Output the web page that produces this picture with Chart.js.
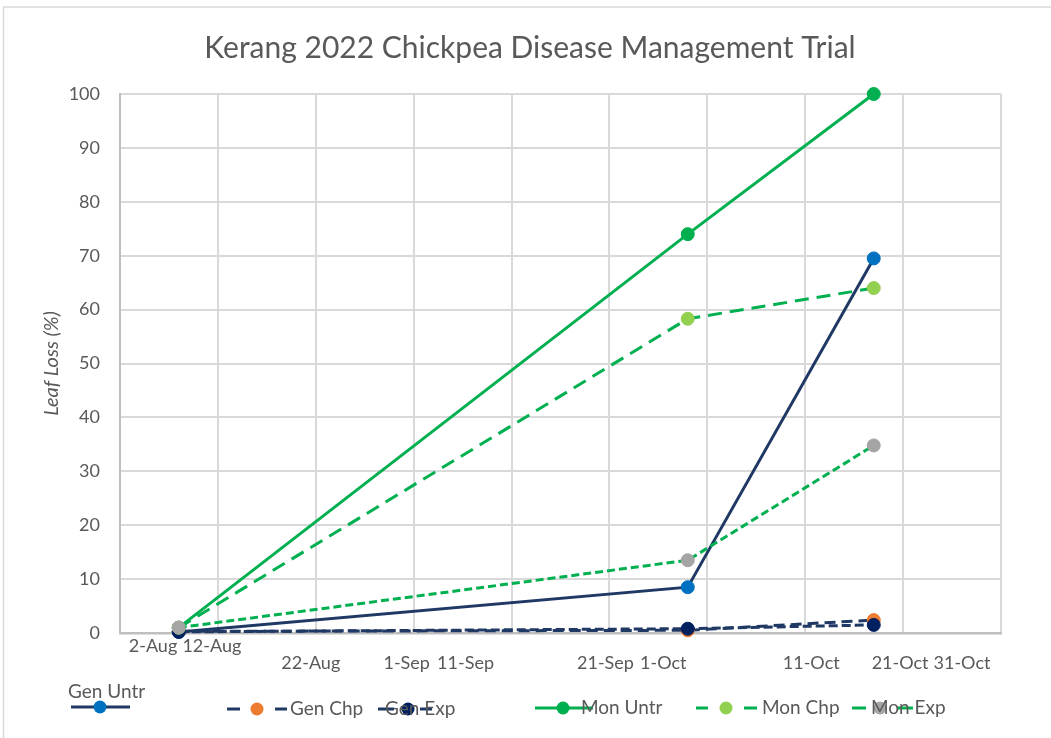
<!DOCTYPE html>
<html>
<head>
<meta charset="utf-8">
<script src="https://cdn.jsdelivr.net/npm/chart.js@4/dist/chart.umd.min.js"></script>
<style>
  html, body { margin: 0; padding: 0; background: #ffffff; }
  #wrap { position: relative; width: 1051px; height: 738px; }
  canvas { display: block; }
</style>
</head>
<body>
<div id="wrap"><canvas id="c" width="1051" height="738"></canvas></div>
<script>
// ---------------- DATA ----------------
const chartTitle = 'Kerang 2022 Chickpea Disease Management Trial';
const yAxisTitle = 'Leaf Loss (%)';
const axisStartDate = '2022-08-02';
const axisEndDate = '2022-10-31';
const assessmentDates = ['2022-08-08', '2022-09-29', '2022-10-18'];
const xTickLabels = ['2-Aug', '12-Aug', '22-Aug', '1-Sep', '11-Sep', '21-Sep', '1-Oct', '11-Oct', '21-Oct', '31-Oct'];
const yTickMin = 0;
const yTickMax = 100;
const yTickStep = 10;

const seriesNames = ['Gen Untr', 'Gen Chp', 'Gen Exp', 'Mon Untr', 'Mon Chp', 'Mon Exp'];
const genUntr = [0.2, 8.5, 69.5];
const genChp  = [0.3, 0.5, 2.4];
const genExp  = [0.2, 0.8, 1.5];
const monUntr = [1.0, 74.0, 100.0];
const monChp  = [1.0, 58.3, 64.0];
const monExp  = [1.0, 13.5, 34.8];
const seriesValues = [genUntr, genChp, genExp, monUntr, monChp, monExp];

// ---------------- STYLE ----------------
const TEXT = '#595959';
const FONT = 'Lato, "Open Sans", sans-serif';
const seriesStyle = [
  { line: '#1F3864', dash: [],       marker: '#0070C0' },
  { line: '#1F3864', dash: [11, 6],  marker: '#ED7D31' },
  { line: '#1F3864', dash: [9, 4],   marker: '#002060' },
  { line: '#00B050', dash: [],       marker: '#00B050' },
  { line: '#00B050', dash: [14, 8],  marker: '#92D050' },
  { line: '#00B050', dash: [8, 4],   marker: '#A5A5A5' }
];
// x label placement (mimics the paired Excel labels): dx from tick, row
const xLabelPlacement = [
  { dx: 33, row: 0 }, { dx: -6, row: 0 }, { dx: -5, row: 1 }, { dx: -7, row: 1 },
  { dx: -46, row: 1 }, { dx: -4, row: 1 }, { dx: -44, row: 1 }, { dx: 6, row: 1 },
  { dx: -3, row: 1 }, { dx: -39, row: 1 }
];
// legend entry placement: sample line x0..x1, marker x, text x/y
const legendPlacement = [
  { x0: 71,  x1: 130, mx: 100, tx: 68,  ty: 692, ly: 707, segs: null },
  { x0: 227, x1: 287, mx: 257, tx: 290, ty: 709, ly: 709, segs: [[227, 240], [275, 287]] },
  { x0: 378, x1: 432, mx: 408, tx: 385, ty: 709, ly: 709, segs: [[378, 394], [420, 432]] },
  { x0: 535, x1: 593, mx: 563, tx: 581, ty: 708, ly: 708, segs: null },
  { x0: 696, x1: 757, mx: 726, tx: 762, ty: 708, ly: 708, segs: [[696, 708], [744, 757]] },
  { x0: 852, x1: 913, mx: 880, tx: 871, ty: 708, ly: 708, segs: [[852, 866], [875, 887], [897, 913]] }
];
const titlePlacement = { x: 530, y: 48, size: 30 };

// ---------------- BUILD ----------------
const DAY = 86400000;
const dayOffset = d => Math.round((Date.parse(d) - Date.parse(axisStartDate)) / DAY);
const xDays = assessmentDates.map(dayOffset);
const xMax = dayOffset(axisEndDate);
const xStep = xMax / (xTickLabels.length - 1);

const datasets = seriesNames.map((name, i) => ({
  label: name,
  data: seriesValues[i].map((v, j) => ({ x: xDays[j], y: v })),
  borderColor: seriesStyle[i].line,
  backgroundColor: seriesStyle[i].marker,
  borderDash: seriesStyle[i].dash,
  borderWidth: 3,
  pointRadius: 6.5,
  pointBorderWidth: 1,
  pointBorderColor: seriesStyle[i].marker,
  pointBackgroundColor: seriesStyle[i].marker,
  tension: 0,
  clip: false,
  order: seriesNames.length - 1 - i
}));

const frameAndLabels = {
  id: 'frameAndLabels',
  beforeDraw(chart) {
    const ctx = chart.ctx;
    ctx.save();
    ctx.fillStyle = '#ffffff';
    ctx.fillRect(0, 0, chart.width, chart.height);
    ctx.strokeStyle = '#D9D9D9';
    ctx.lineWidth = 1.5;
    ctx.beginPath();
    ctx.moveTo(3.5, chart.height + 2);
    ctx.lineTo(3.5, 7);
    ctx.lineTo(chart.width + 2, 7);
    ctx.stroke();
    // title
    ctx.font = titlePlacement.size + 'px ' + FONT;
    ctx.fillStyle = TEXT;
    ctx.textAlign = 'center';
    ctx.textBaseline = 'middle';
    ctx.fillText(chartTitle, titlePlacement.x, titlePlacement.y);
    ctx.restore();
  },
  afterDraw(chart) {
    const ctx = chart.ctx;
    const xs = chart.scales.x;
    const area = chart.chartArea;
    ctx.save();
    // x tick labels
    ctx.font = '18px ' + FONT;
    ctx.fillStyle = TEXT;
    ctx.textAlign = 'center';
    ctx.textBaseline = 'middle';
    xTickLabels.forEach((lab, i) => {
      const p = xLabelPlacement[i];
      const px = xs.getPixelForValue(i * xStep) + p.dx;
      const py = area.bottom + (p.row === 0 ? 13 : 30);
      ctx.fillText(lab, px, py);
    });
    // legend
    ctx.font = '19px ' + FONT;
    chart.data.datasets.forEach((ds, i) => {
      const L = legendPlacement[i];
      ctx.strokeStyle = ds.borderColor;
      ctx.lineWidth = 3;
      ctx.setLineDash([]);
      ctx.beginPath();
      if (L.segs) {
        L.segs.forEach(s => { ctx.moveTo(s[0], L.ly); ctx.lineTo(s[1], L.ly); });
      } else {
        ctx.moveTo(L.x0, L.ly); ctx.lineTo(L.x1, L.ly);
      }
      ctx.stroke();
      ctx.fillStyle = ds.pointBackgroundColor;
      ctx.beginPath();
      ctx.arc(L.mx, L.ly, 6.5, 0, Math.PI * 2);
      ctx.fill();
      ctx.fillStyle = TEXT;
      ctx.textAlign = 'left';
      ctx.fillText(ds.label, L.tx, L.ty);
    });
    ctx.restore();
  }
};

new Chart(document.getElementById('c'), {
  type: 'line',
  data: { datasets },
  plugins: [frameAndLabels],
  options: {
    responsive: false,
    animation: false,
    events: [],
    layout: { padding: { left: 0, top: 94, right: 50, bottom: 105 } },
    plugins: {
      legend: { display: false },
      tooltip: { enabled: false },
      title: { display: false }
    },
    scales: {
      x: {
        type: 'linear',
        min: 0,
        max: xMax,
        afterFit: s => { s.height = 0; },
        afterBuildTicks: s => {
          s.ticks = xTickLabels.map((_, i) => ({ value: i * xStep }));
        },
        ticks: { display: false, stepSize: xStep },
        grid: { color: '#D9D9D9', lineWidth: 2, drawTicks: false },
        border: { color: '#BFBFBF', width: 2.5 }
      },
      y: {
        min: yTickMin,
        max: yTickMax,
        afterFit: s => { s.width = 120; },
        ticks: {
          stepSize: yTickStep,
          color: TEXT,
          padding: 20,
          font: { family: FONT, size: 18 }
        },
        grid: { color: '#D9D9D9', lineWidth: 2, drawTicks: false },
        border: { color: '#BFBFBF', width: 2 },
        title: {
          display: true,
          text: yAxisTitle,
          color: TEXT,
          font: { family: FONT, size: 20, style: 'italic' },
          padding: { top: 40, bottom: 0 }
        }
      }
    }
  }
});
</script>
</body>
</html>
